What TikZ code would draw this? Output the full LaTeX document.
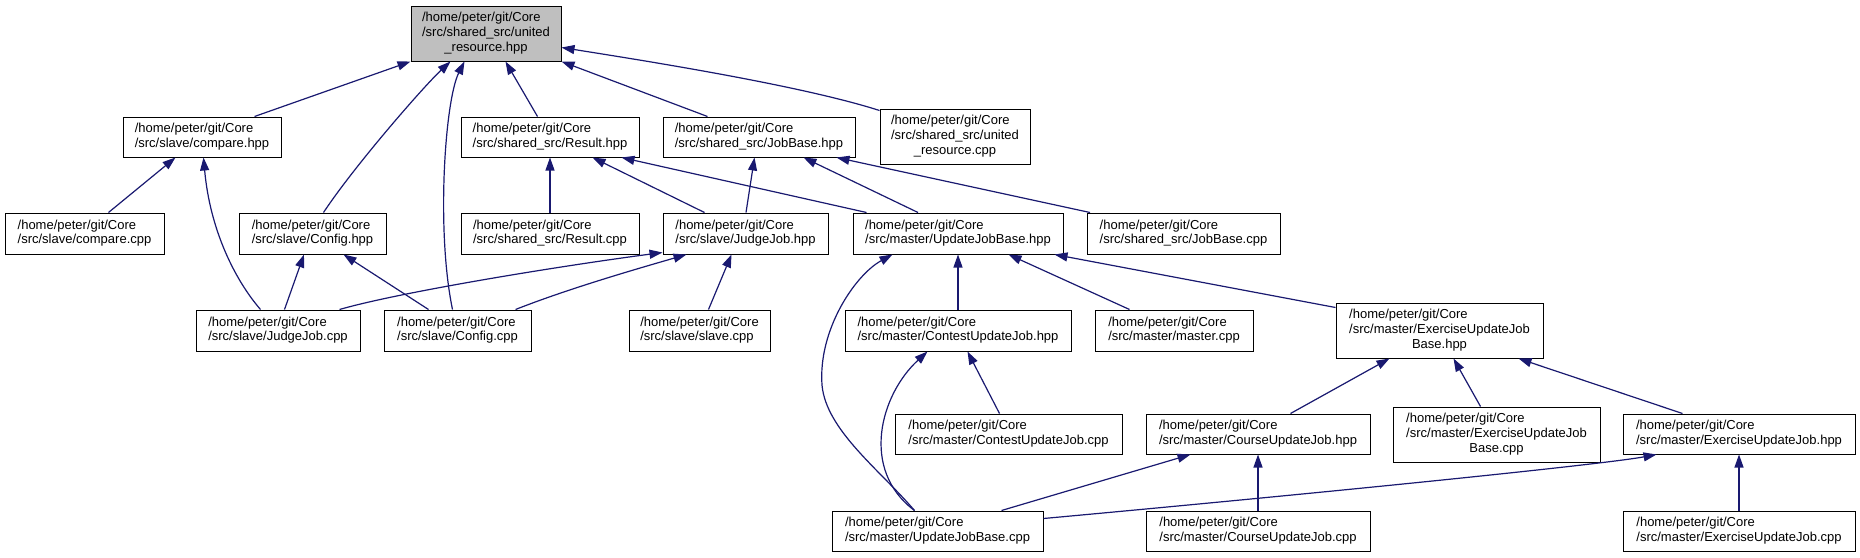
\documentclass[tikz,border=0pt]{standalone}
\usepackage{fontspec}
\setmainfont{Liberation Sans}
\usetikzlibrary{arrows.meta,calc}
\definecolor{edgeblue}{HTML}{191970}
\definecolor{rootgray}{HTML}{BFBFBF}
\newcommand\twol[2]{\begin{tabular}{@{}l@{}}#1\\#2\end{tabular}}
\newcommand\threel[3]{\begin{tabular}{@{}l@{}}#1\\#2\\\multicolumn{1}{@{}c@{}}{#3}\end{tabular}}
\newcommand\hpc{/home/peter/git/Core}
\begin{document}
\begin{tikzpicture}[x=1pt,y=-1pt,
  file/.style={draw=black, line width=1pt, fill=white, inner sep=0pt,
    font=\fontsize{13}{14.7}\selectfont},
  dep/.style={draw=edgeblue, line width=1.2pt, {Triangle[length=13pt,width=9pt]}-}]
\useasboundingbox[fill=white] (0,0) rectangle (1860,557);
% row 1
\node[file, fill=rootgray, minimum width=150pt, minimum height=55pt] (root) at (486,33.5)
  {\threel{\hpc}{/src/shared\_src/united}{\_resource.hpp}};
% row 2
\node[file, minimum width=158pt, minimum height=40pt] (cmphpp) at (202,137) {\twol{\hpc}{/src/slave/compare.hpp}};
\node[file, minimum width=178pt, minimum height=40pt] (reshpp) at (550,137) {\twol{\hpc}{/src/shared\_src/Result.hpp}};
\node[file, minimum width=192pt, minimum height=40pt] (jbhpp) at (759,137) {\twol{\hpc}{/src/shared\_src/JobBase.hpp}};
\node[file, minimum width=150pt, minimum height=55pt] (urcpp) at (955,136.5)
  {\threel{\hpc}{/src/shared\_src/united}{\_resource.cpp}};
% row 3
\node[file, minimum width=159pt, minimum height=41pt] (cmpcpp) at (84.5,233.5) {\twol{\hpc}{/src/slave/compare.cpp}};
\node[file, minimum width=147pt, minimum height=41pt] (cfghpp) at (312.5,233.5) {\twol{\hpc}{/src/slave/Config.hpp}};
\node[file, minimum width=178pt, minimum height=41pt] (rescpp) at (550,233.5) {\twol{\hpc}{/src/shared\_src/Result.cpp}};
\node[file, minimum width=165pt, minimum height=41pt] (jjhpp) at (745.5,233.5) {\twol{\hpc}{/src/slave/JudgeJob.hpp}};
\node[file, minimum width=210pt, minimum height=41pt] (ujbhpp) at (958,233.5) {\twol{\hpc}{/src/master/UpdateJobBase.hpp}};
\node[file, minimum width=193pt, minimum height=41pt] (jbcpp) at (1183.5,233.5) {\twol{\hpc}{/src/shared\_src/JobBase.cpp}};
% row 4
\node[file, minimum width=164pt, minimum height=41pt] (jjcpp) at (278,330.5) {\twol{\hpc}{/src/slave/JudgeJob.cpp}};
\node[file, minimum width=147pt, minimum height=41pt] (cfgcpp) at (457.5,330.5) {\twol{\hpc}{/src/slave/Config.cpp}};
\node[file, minimum width=141pt, minimum height=41pt] (slavecpp) at (699.5,330.5) {\twol{\hpc}{/src/slave/slave.cpp}};
\node[file, minimum width=226pt, minimum height=41pt] (cujhpp) at (958,330.5) {\twol{\hpc}{/src/master/ContestUpdateJob.hpp}};
\node[file, minimum width=158pt, minimum height=41pt] (mastercpp) at (1174,330.5) {\twol{\hpc}{/src/master/master.cpp}};
\node[file, minimum width=207pt, minimum height=55pt] (eujbhpp) at (1439.5,330.5)
  {\threel{\hpc}{/src/master/ExerciseUpdateJob}{Base.hpp}};
% row 5
\node[file, minimum width=227pt, minimum height=40pt] (cujcpp) at (1008.5,434) {\twol{\hpc}{/src/master/ContestUpdateJob.cpp}};
\node[file, minimum width=224pt, minimum height=40pt] (coujhpp) at (1258,434) {\twol{\hpc}{/src/master/CourseUpdateJob.hpp}};
\node[file, minimum width=207pt, minimum height=55pt] (eujbcpp) at (1496.5,434.5)
  {\threel{\hpc}{/src/master/ExerciseUpdateJob}{Base.cpp}};
\node[file, minimum width=232pt, minimum height=40pt] (eujhpp) at (1739,434) {\twol{\hpc}{/src/master/ExerciseUpdateJob.hpp}};
% row 6
\node[file, minimum width=211pt, minimum height=40pt] (ujbcpp) at (937.5,531) {\twol{\hpc}{/src/master/UpdateJobBase.cpp}};
\node[file, minimum width=224pt, minimum height=40pt] (coujcpp) at (1258,531) {\twol{\hpc}{/src/master/CourseUpdateJob.cpp}};
\node[file, minimum width=232pt, minimum height=40pt] (eujcpp) at (1739,531) {\twol{\hpc}{/src/master/ExerciseUpdateJob.cpp}};
% edges (arrow at the included file)
\draw[dep] (root.south west) -- ($(cmphpp.north west)+(132,0)$);
\draw[dep] ($(root.south west)+(40,0)$) .. controls (425,85) and (355,165) .. ($(cfghpp.north west)+(85,0)$);
\draw[dep] ($(root.south west)+(54,0)$) .. controls (445,100) and (436,230) .. ($(cfgcpp.north west)+(69,0)$);
\draw[dep] ($(root.south west)+(95,0)$) -- ($(reshpp.north west)+(77,0)$);
\draw[dep] (root.south east) -- ($(jbhpp.north west)+(45,0)$);
\draw[dep] ($(root.south east)+(0,-14)$) .. controls (640,60) and (800,85) .. ($(urcpp.north west)+(0,2)$);
\draw[dep] ($(cmphpp.south west)+(53,0)$) -- ($(cmpcpp.north west)+(104,0)$);
\draw[dep] ($(cmphpp.south west)+(81,0)$) .. controls (210,230) and (235,280) .. ($(jjcpp.north west)+(65,0)$);
\draw[dep] ($(cfghpp.south west)+(65.5,0)$) -- ($(jjcpp.north west)+(89,0)$);
\draw[dep] ($(cfghpp.south west)+(105,0)$) -- ($(cfgcpp.north west)+(45,0)$);
\draw[dep] (reshpp.south) -- (rescpp.north);
\draw[dep] ($(reshpp.south west)+(132,0)$) -- ($(jjhpp.north west)+(42,0)$);
\draw[dep] ($(reshpp.south west)+(161,0)$) -- ($(ujbhpp.north west)+(14,0)$);
\draw[dep] ($(jbhpp.south west)+(92,0)$) -- ($(jjhpp.north west)+(83.5,0)$);
\draw[dep] ($(jbhpp.south west)+(141,0)$) -- ($(ujbhpp.north west)+(65.5,0)$);
\draw[dep] ($(jbhpp.south west)+(174,0)$) -- ($(jbcpp.north west)+(3.5,0)$);
\draw[dep] ($(jjhpp.south west)+(0,-2)$) .. controls (560,266) and (400,292) .. ($(jjcpp.north west)+(144,0)$);
\draw[dep] ($(jjhpp.south west)+(24,0)$) .. controls (640,268) and (570,288) .. ($(cfgcpp.north west)+(132,0)$);
\draw[dep] ($(jjhpp.south west)+(69,0)$) -- ($(slavecpp.north west)+(80,0)$);
\draw[dep] ($(ujbhpp.south west)+(40,0)$) .. controls (855,275) and (818,330) .. (822,385)
  .. controls (826,430) and (880,470) .. ($(ujbcpp.north west)+(83,0)$);
\draw[dep] ($(cujhpp.south west)+(83,0)$) .. controls (880,395) and (860,470) .. ($(ujbcpp.north west)+(83,0)$);
\draw[dep] (ujbhpp.south) -- (cujhpp.north);
\draw[dep] ($(ujbhpp.south west)+(156,0)$) -- ($(mastercpp.north west)+(35,0)$);
\draw[dep] ($(ujbhpp.south west)+(202,0)$) -- ($(eujbhpp.north west)+(0,5)$);
\draw[dep] ($(cujhpp.south west)+(123,0)$) -- ($(cujcpp.north west)+(105,0)$);
\draw[dep] ($(eujbhpp.south west)+(54,0)$) -- ($(coujhpp.north west)+(145,0)$);
\draw[dep] ($(eujbhpp.south west)+(118,0)$) -- ($(eujbcpp.north west)+(88,0)$);
\draw[dep] ($(eujbhpp.south west)+(183,0)$) -- ($(eujhpp.north west)+(60,0)$);
\draw[dep] ($(coujhpp.south west)+(45,0)$) -- ($(ujbcpp.north west)+(170,0)$);
\draw[dep] (coujhpp.south) -- (coujcpp.north);
\draw[dep] ($(eujhpp.south west)+(34,0)$) .. controls (1600,465) and (1300,495) .. ($(ujbcpp.north east)+(0,8)$);
\draw[dep] (eujhpp.south) -- (eujcpp.north);
\end{tikzpicture}
\end{document}
